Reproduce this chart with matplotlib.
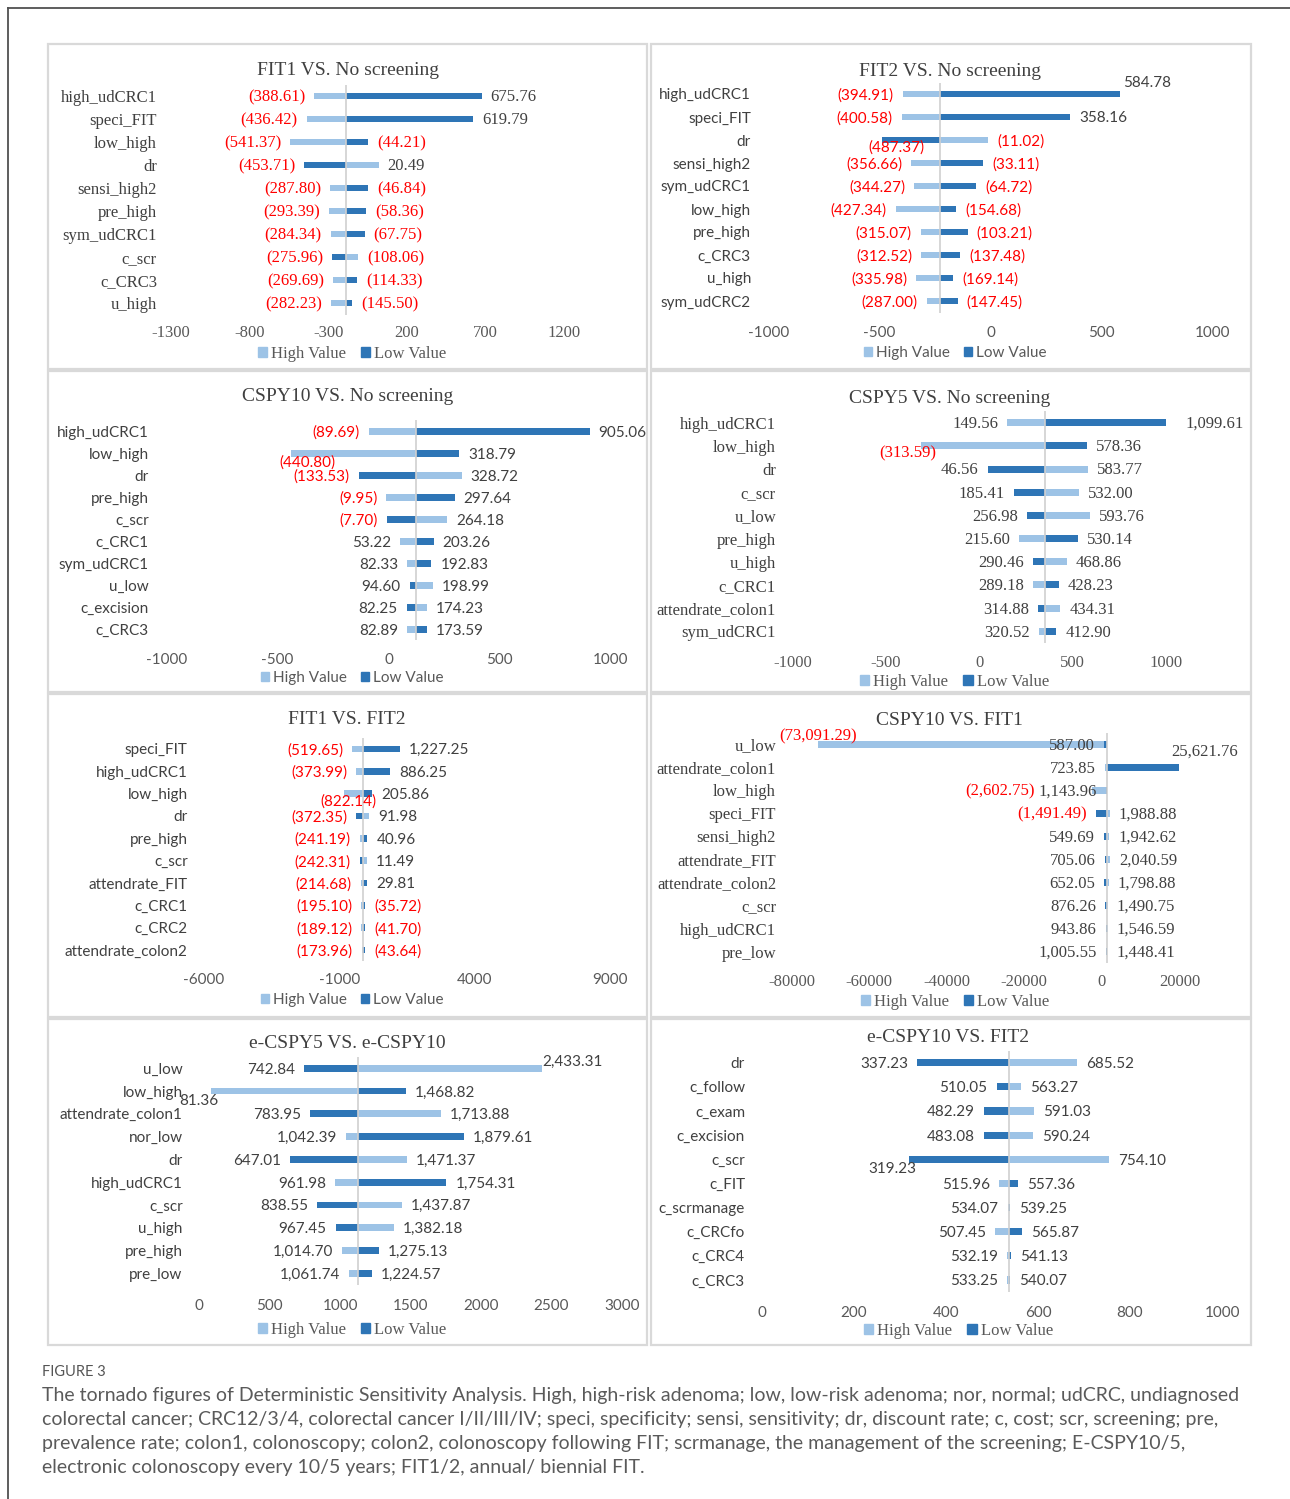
import matplotlib
matplotlib.use("Agg")
import matplotlib.pyplot as plt
from matplotlib.patches import Patch, Rectangle
import numpy as np

# ---------------- data ----------------
p1_title = "FIT1 VS. No screening"
p1_cats = ["high_udCRC1", "speci_FIT", "low_high", "dr", "sensi_high2", "pre_high",
           "sym_udCRC1", "c_scr", "c_CRC3", "u_high"]
p1_high = [-388.61, -436.42, -541.37, 20.49, -287.80, -293.39, -284.34, -108.06, -269.69, -282.23]
p1_low = [675.76, 619.79, -44.21, -453.71, -46.84, -58.36, -67.75, -275.96, -114.33, -145.50]
p1_base = -188
p1_ticks = [-1300, -800, -300, 200, 700, 1200]

p2_title = "FIT2 VS. No screening"
p2_cats = ["high_udCRC1", "speci_FIT", "dr", "sensi_high2", "sym_udCRC1", "low_high",
           "pre_high", "c_CRC3", "u_high", "sym_udCRC2"]
p2_high = [-394.91, -400.58, -11.02, -356.66, -344.27, -427.34, -315.07, -312.52, -335.98, -287.00]
p2_low = [584.78, 358.16, -487.37, -33.11, -64.72, -154.68, -103.21, -137.48, -169.14, -147.45]
p2_base = -228
p2_ticks = [-1000, -500, 0, 500, 1000]

p3_title = "CSPY10 VS. No screening"
p3_cats = ["high_udCRC1", "low_high", "dr", "pre_high", "c_scr", "c_CRC1",
           "sym_udCRC1", "u_low", "c_excision", "c_CRC3"]
p3_high = [-89.69, -440.80, 328.72, -9.95, 264.18, 53.22, 82.33, 198.99, 174.23, 82.89]
p3_low = [905.06, 318.79, -133.53, 297.64, -7.70, 203.26, 192.83, 94.60, 82.25, 173.59]
p3_base = 124
p3_ticks = [-1000, -500, 0, 500, 1000]

p4_title = "CSPY5 VS. No screening"
p4_cats = ["high_udCRC1", "low_high", "dr", "c_scr", "u_low", "pre_high",
           "u_high", "c_CRC1", "attendrate_colon1", "sym_udCRC1"]
p4_high = [149.56, -313.59, 583.77, 532.00, 593.76, 215.60, 468.86, 289.18, 434.31, 320.52]
p4_low = [1099.61, 578.36, 46.56, 185.41, 256.98, 530.14, 290.46, 428.23, 314.88, 412.90]
p4_base = 352
p4_ticks = [-1000, -500, 0, 500, 1000]

p5_title = "FIT1 VS. FIT2"
p5_cats = ["speci_FIT", "high_udCRC1", "low_high", "dr", "pre_high", "c_scr",
           "attendrate_FIT", "c_CRC1", "c_CRC2", "attendrate_colon2"]
p5_high = [-519.65, -373.99, -822.14, 91.98, -241.19, 11.49, -214.68, -195.10, -189.12, -173.96]
p5_low = [1227.25, 886.25, 205.86, -372.35, 40.96, -242.31, 29.81, -35.72, -41.70, -43.64]
p5_base = -127
p5_ticks = [-6000, -1000, 4000, 9000]

p6_title = "CSPY10 VS. FIT1"
p6_cats = ["u_low", "attendrate_colon1", "low_high", "speci_FIT", "sensi_high2",
           "attendrate_FIT", "attendrate_colon2", "c_scr", "high_udCRC1", "pre_low"]
p6_high = [-73091.29, 723.85, -2602.75, 1988.88, 1942.62, 2040.59, 1798.88, 1490.75, 1546.59, 1448.41]
p6_low = [587.00, 25621.76, 1143.96, -1491.49, 549.69, 705.06, 652.05, 876.26, 943.86, 1005.55]
p6_base = 1250
p6_ticks = [-80000, -60000, -40000, -20000, 0, 20000]

p7_title = "e-CSPY5 VS. e-CSPY10"
p7_cats = ["u_low", "low_high", "attendrate_colon1", "nor_low", "dr", "high_udCRC1",
           "c_scr", "u_high", "pre_high", "pre_low"]
p7_high = [2433.31, 81.36, 1713.88, 1042.39, 1471.37, 961.98, 1437.87, 1382.18, 1014.70, 1061.74]
p7_low = [742.84, 1468.82, 783.95, 1879.61, 647.01, 1754.31, 838.55, 967.45, 1275.13, 1224.57]
p7_base = 1127
p7_ticks = [0, 500, 1000, 1500, 2000, 2500, 3000]

p8_title = "e-CSPY10 VS. FIT2"
p8_cats = ["dr", "c_follow", "c_exam", "c_excision", "c_scr", "c_FIT",
           "c_scrmanage", "c_CRCfo", "c_CRC4", "c_CRC3"]
p8_high = [685.52, 563.27, 591.03, 590.24, 754.10, 515.96, 534.07, 507.45, 532.19, 533.25]
p8_low = [337.23, 510.05, 482.29, 483.08, 319.23, 557.36, 539.25, 565.87, 541.13, 540.07]
p8_base = 536.66
p8_ticks = [0, 200, 400, 600, 800, 1000]

caption_head = "FIGURE 3"
caption_lines = [
    "The tornado figures of Deterministic Sensitivity Analysis. High, high-risk adenoma; low, low-risk adenoma; nor, normal; udCRC, undiagnosed",
    "colorectal cancer; CRC12/3/4, colorectal cancer I/II/III/IV; speci, specificity; sensi, sensitivity; dr, discount rate; c, cost; scr, screening; pre,",
    "prevalence rate; colon1, colonoscopy; colon2, colonoscopy following FIT; scrmanage, the management of the screening; E-CSPY10/5,",
    "electronic colonoscopy every 10/5 years; FIT1/2, annual/ biennial FIT.",
]

panels = [
    (p1_title, p1_cats, p1_high, p1_low, p1_base, p1_ticks),
    (p2_title, p2_cats, p2_high, p2_low, p2_base, p2_ticks),
    (p3_title, p3_cats, p3_high, p3_low, p3_base, p3_ticks),
    (p4_title, p4_cats, p4_high, p4_low, p4_base, p4_ticks),
    (p5_title, p5_cats, p5_high, p5_low, p5_base, p5_ticks),
    (p6_title, p6_cats, p6_high, p6_low, p6_base, p6_ticks),
    (p7_title, p7_cats, p7_high, p7_low, p7_base, p7_ticks),
    (p8_title, p8_cats, p8_high, p8_low, p8_base, p8_ticks),
]

# ---------------- layout / style (pixels of the 1290x1499 canvas) ----------------
W, H = 1290, 1499
LIGHT = "#9DC3E6"
DARK = "#2E75B6"
SERIF = ["Liberation Serif", "DejaVu Serif"]
SANS = ["Lato", "DejaVu Sans"]

# x of first tick, x of last tick, y row1, y row10, y ticklabels, legend x,y, title x,y,
# right edge of category labels, body font, legend font
layout = [
    (171, 564, 96, 303, 333, 352, 354, 348, 70, 157, SERIF, SERIF),
    (768.6, 1212.6, 94, 301, 334, 955, 353, 950, 71, 751, SANS, SANS),
    (166.6, 610.6, 431.3, 629.3, 661, 352, 678, 348, 396, 149, SANS, SANS),
    (792.4, 1165.9, 422.7, 631.3, 662.7, 954.6, 682, 950, 398, 776, SERIF, SERIF),
    (204, 609.8, 749, 950, 981, 352, 1000, 346.5, 719, 187.7, SANS, SANS),
    (791.6, 1179.4, 744.3, 951.7, 982, 955, 1002, 949.7, 720, 776, SERIF, SERIF),
    (199.2, 622, 1068.3, 1273.3, 1306.7, 352, 1330, 347.7, 1044, 182.7, SANS, SERIF),
    (761.7, 1222.1, 1062.7, 1280, 1314, 958.5, 1330.7, 948.5, 1037, 745, SANS, SERIF),
]

# label nudges (px right, px down) where Excel moved labels away from the bar end
nudges = {
    (1, 0, "low"): (-6, -12),
    (1, 2, "low"): (51, 6),
    (2, 1, "high"): (54, 8),
    (3, 0, "low"): (-8, 0),
    (3, 1, "high"): (25, 6),
    (4, 2, "high"): (41, 6),
    (5, 0, "high"): (47, -9),
    (5, 1, "low"): (-39, -17),
    (5, 2, "high"): (-48, 0),
    (6, 0, "high"): (-9, -8),
    (6, 1, "high"): (17, 9),
    (7, 4, "low"): (17, 8),
}

GAP = 9  # px between bar end and label


def fmt(v):
    if v < 0:
        return "({:,.2f})".format(-v)
    return "{:,.2f}".format(v)


fig = plt.figure(figsize=(W / 100, H / 100), dpi=100)
fig.patch.set_facecolor("white")

# background layer in pixel coordinates: frames, titles, caption
bg = fig.add_axes([0, 0, 1, 1], zorder=-5)
bg.set_xlim(0, W)
bg.set_ylim(H, 0)
bg.axis("off")

bg.plot([7.5, 7.5], [H, 7.5], color="#505050", lw=1.3)
bg.plot([7.5, W], [7.5, 7.5], color="#505050", lw=1.3)

col_x = [(48, 647), (651, 1251)]
row_y = [(44, 369), (371, 692), (694, 1017), (1019, 1345)]
for ry in row_y:
    for cx in col_x:
        bg.add_patch(Rectangle((cx[0], ry[0]), cx[1] - cx[0], ry[1] - ry[0],
                               fill=False, ec="#D9D9D9", lw=1.6))

for i, (title, cats, high, low, base, ticks) in enumerate(panels):
    (x0, x1, r1, r10, ty, lx, ly, tx, tty, cat_r, body, legfont) = layout[i]
    sp = (r10 - r1) / 9
    top = r1 - sp / 2
    bot = r10 + sp / 2
    ax = fig.add_axes([x0 / W, 1 - bot / H, (x1 - x0) / W, (bot - top) / H])
    ax.set_xlim(ticks[0], ticks[-1])
    ax.set_ylim(len(cats) - 0.5, -0.5)
    ax.patch.set_alpha(0)
    for s in ax.spines.values():
        s.set_visible(False)

    rows = np.arange(len(cats))
    ax.barh(rows, np.array(high) - base, left=base, height=0.3, color=LIGHT, zorder=2)
    ax.barh(rows, np.array(low) - base, left=base, height=0.3, color=DARK, zorder=2)
    ax.axvline(base, color="#D0D0D0", lw=1.2, zorder=3)

    bsize = 12 if body is SERIF else 11
    ax.set_xticks(ticks)
    ax.set_xticklabels([str(t) for t in ticks], fontfamily=body, fontsize=bsize, color="#595959")
    ax.set_yticks(rows)
    ax.set_yticklabels(cats, fontfamily=body, fontsize=bsize, color="#404040")
    ax.tick_params(length=0)
    ax.tick_params(axis="x", pad=(ty - bot - 8) * 0.72)
    ax.tick_params(axis="y", pad=(x0 - cat_r) * 0.72)

    for j in rows:
        for val, kind in ((high[j], "high"), (low[j], "low")):
            dx, dy = nudges.get((i, int(j), kind), (0, 0))
            if val < base:
                off, ha = -GAP, "right"
            else:
                off, ha = GAP, "left"
            ax.annotate(fmt(val), (val, j), xytext=((off + dx) * 0.72, -dy * 0.72 - 1),
                        textcoords="offset points", ha=ha, va="center",
                        color="#FF0000" if val < 0 else "#404040",
                        fontfamily=body, fontsize=bsize, annotation_clip=False, zorder=4)

    bg.text(tx, tty, title, ha="center", va="center", fontfamily=SERIF,
            fontsize=14, color="#404040")

    handles = [Patch(color=LIGHT, label="High Value"), Patch(color=DARK, label="Low Value")]
    ax.legend(handles=handles, loc="center", bbox_to_anchor=(lx / W, 1 - ly / H),
              bbox_transform=fig.transFigure, ncol=2, frameon=False,
              handlelength=0.55, handleheight=0.55, handletextpad=0.25, columnspacing=0.9,
              borderpad=0, labelcolor="#595959",
              prop={"family": legfont, "size": 12 if legfont is SERIF else 11})

# caption
head = bg.text(42, 1372, caption_head, ha="left", va="center", fontfamily=SANS,
               fontsize=10, color="#555555")
cap = [bg.text(42, 1396 + 24 * k, line, ha="left", va="center", fontfamily=SANS,
               fontsize=13, color="#5A5A5A")
       for k, line in enumerate(caption_lines)]

renderer = fig.canvas.get_renderer()
w0 = cap[0].get_window_extent(renderer).width
size = 13 * (1232 - 42) / w0
for t in cap:
    t.set_fontsize(size)
wh = head.get_window_extent(renderer).width
head.set_fontsize(10 * 63 / wh)

fig.savefig("out.png", dpi=100, facecolor="white")
